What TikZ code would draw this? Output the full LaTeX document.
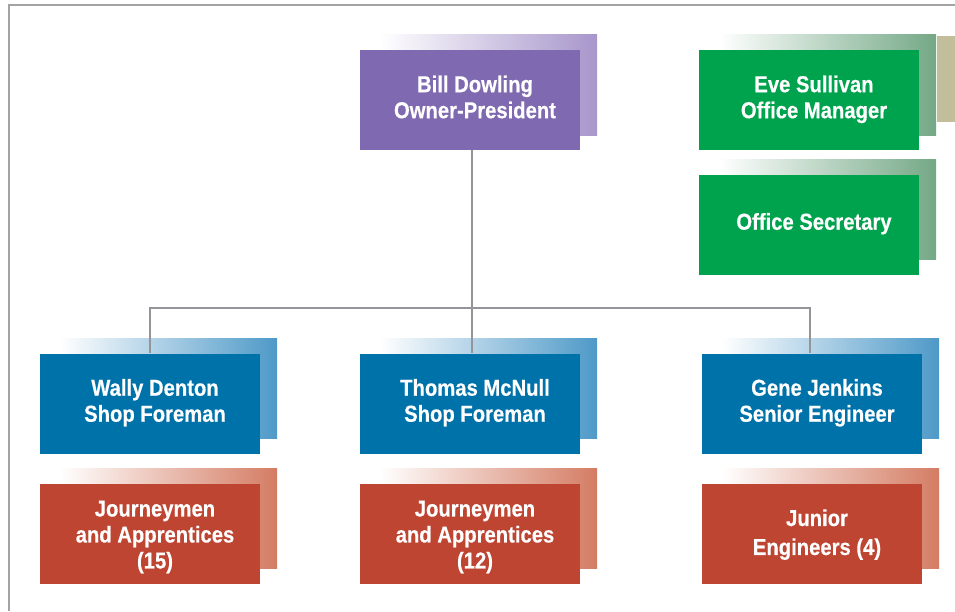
\documentclass[tikz,border=0pt]{standalone}
\usepackage{fontspec}
\setmainfont{Liberation Sans}[FakeStretch=0.88, BoldFeatures={FakeBold=0.4}]
\usetikzlibrary{calc}
\definecolor{cpurple}{HTML}{7F69B0}
\definecolor{spurple}{HTML}{A796CB}
\definecolor{cgreen}{HTML}{00A34D}
\definecolor{sgreen}{HTML}{74A886}
\definecolor{ctan}{HTML}{C2BE9C}
\definecolor{cblue}{HTML}{0072AA}
\definecolor{sblue}{HTML}{4E99C8}
\definecolor{cred}{HTML}{BE4532}
\definecolor{sred}{HTML}{D47C63}
\definecolor{conngray}{HTML}{939598}
\definecolor{framegray}{HTML}{A3A3A3}
\pgfdeclarelayer{shadowlayer}
\pgfsetlayers{shadowlayer,main}
\tikzset{
  orgbox/.style={minimum width=220pt, minimum height=100pt, inner sep=0pt,
    text=white, align=center, font=\fontsize{23}{26}\selectfont\bfseries},
  conn/.style={draw=conngray, line width=2pt},
}
\newcommand{\bt}[1]{\hspace*{10pt}\begin{tabular}{@{}c@{}}#1\end{tabular}}
\newcommand{\bts}[2]{\raisebox{#1}[0pt][0pt]{\hspace*{10pt}\begin{tabular}{@{}c@{}}#2\end{tabular}}}
\newcommand{\boxshadow}[2]{%
  \begin{pgfonlayer}{shadowlayer}
    \shade[left color=white, right color=#2] ($(#1.north west)+(20,-15)$) rectangle ($(#1.south east)+(17,-15)$);
  \end{pgfonlayer}}
\begin{document}
\begin{tikzpicture}[x=1pt,y=-1pt]
\useasboundingbox (0,0) rectangle (955,611);
% frame
\draw[framegray, line width=2pt] (955,5) -- (9,5) -- (9,611);
% tan strip
\fill[ctan] (937,36) rectangle (955,122);
% boxes
\node[orgbox, fill=cpurple] (bill) at (470,100) {\bt{Bill Dowling\\Owner-President}};
\node[orgbox, fill=cgreen] (eve) at (809,100) {\bt{Eve Sullivan\\Office Manager}};
\node[orgbox, fill=cgreen] (sec) at (809,224.5) {\bt{Office Secretary}};
\node[orgbox, fill=cblue] (wally) at (150,403.5) {\bt{Wally Denton\\Shop Foreman}};
\node[orgbox, fill=cblue] (thomas) at (470,403.5) {\bt{Thomas McNull\\Shop Foreman}};
\node[orgbox, fill=cblue] (gene) at (812,403.5) {\bt{Gene Jenkins\\Senior Engineer}};
\node[orgbox, fill=cred] (jone) at (150,533.5) {\bts{-10pt}{Journeymen\\and Apprentices\\(15)}};
\node[orgbox, fill=cred] (jtwo) at (470,533.5) {\bts{-10pt}{Journeymen\\and Apprentices\\(12)}};
\node[orgbox, fill=cred] (junior) at (812,533.5) {\bts{-8pt}{Junior\\[3pt]Engineers (4)}};
% shadows
\boxshadow{bill}{spurple}
\boxshadow{eve}{sgreen}
\boxshadow{sec}{sgreen}
\boxshadow{wally}{sblue}
\boxshadow{thomas}{sblue}
\boxshadow{gene}{sblue}
\boxshadow{jone}{sred}
\boxshadow{jtwo}{sred}
\boxshadow{junior}{sred}
% connectors
\draw[conn] ([xshift=2pt]bill.south) -- ([xshift=2pt]thomas.north);
\draw[conn] (wally.north) -- ++(0,-45) -| ([xshift=-2pt]gene.north);
\end{tikzpicture}
\end{document}
